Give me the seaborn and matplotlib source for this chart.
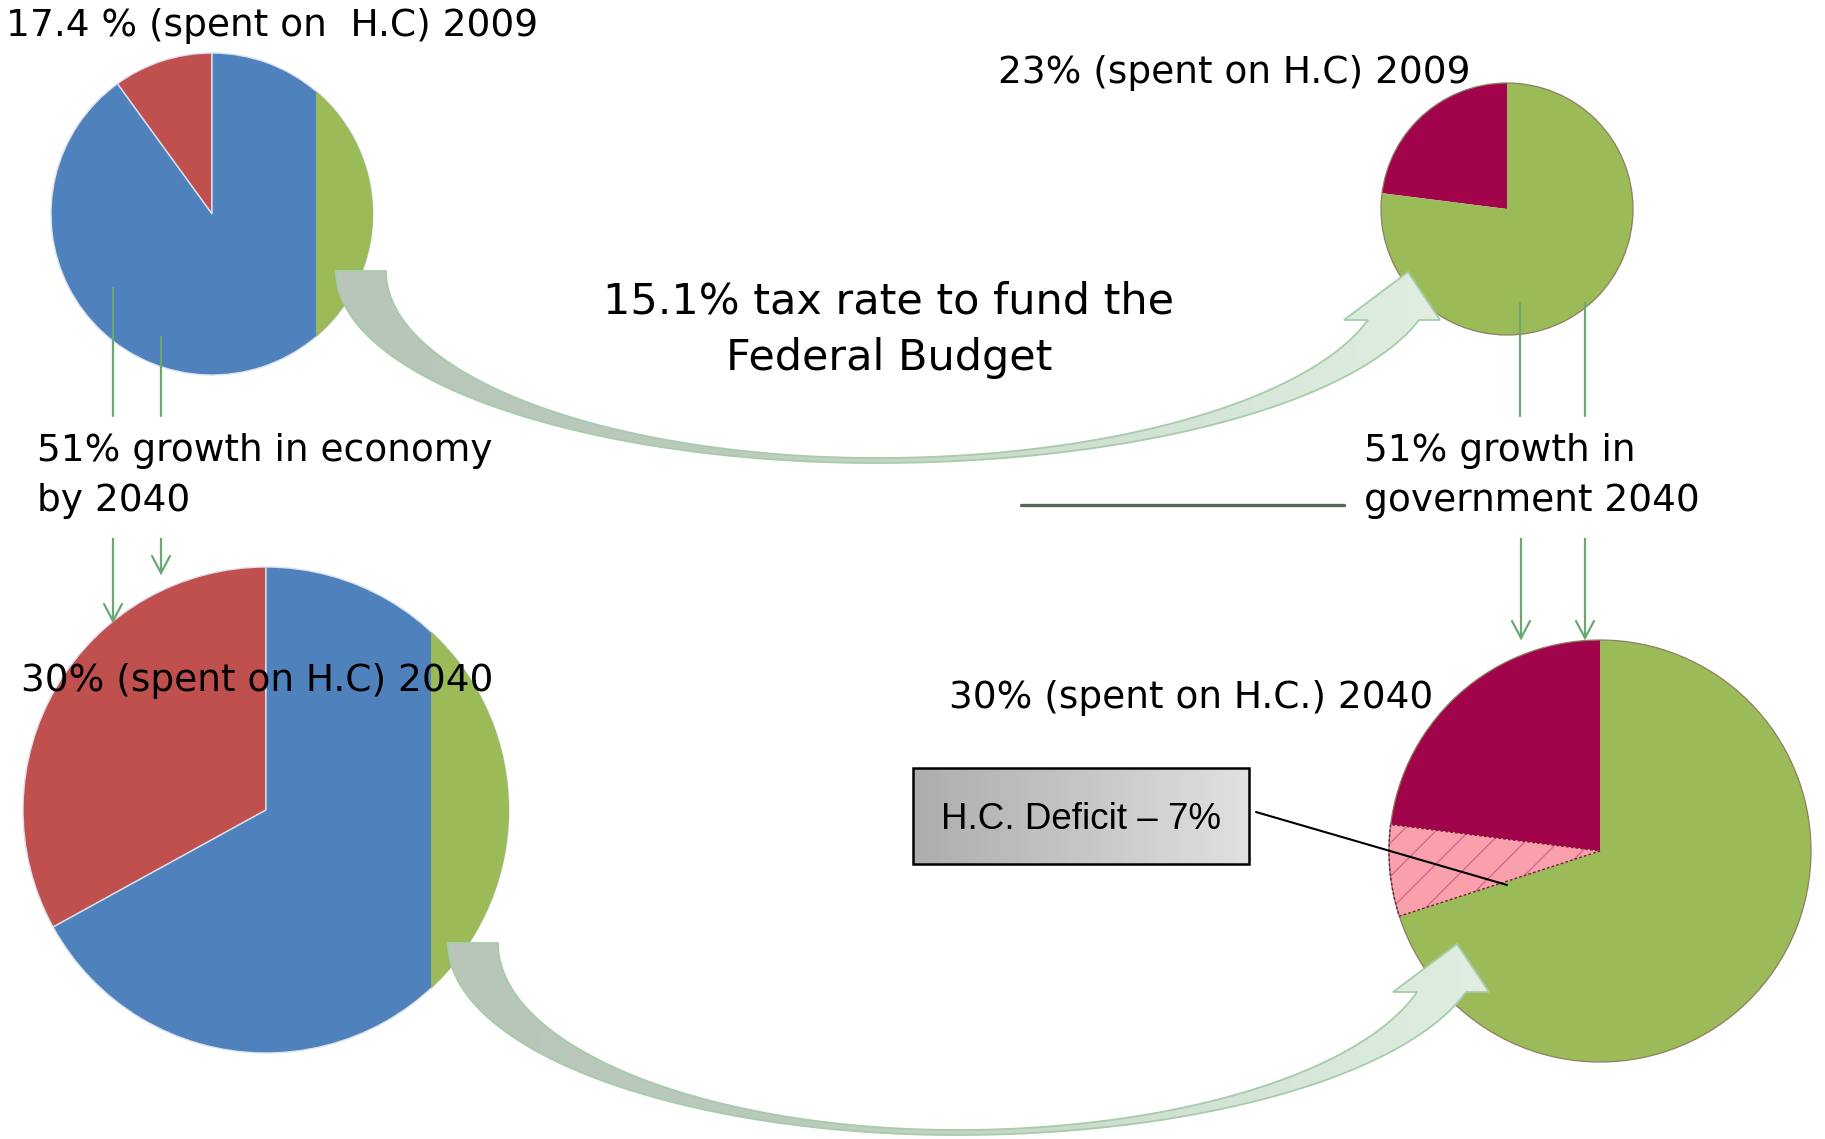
import numpy as np
import matplotlib
matplotlib.use("Agg")
import matplotlib.pyplot as plt
import seaborn as sns
from matplotlib.patches import Polygon, Rectangle, Circle, Wedge
from matplotlib.colors import LinearSegmentedColormap

# ---------------------------------------------------------------- data
# economy pies (share of GDP): health care vs. rest of economy
economy_2009 = [10, 90]
economy_2040 = [33, 67]
# green cap on the economy pies: federal tax take, % of disc area
tax_cap_share = [12.0, 10.3]
# federal budget pies: health care vs. rest of government
budget_2009 = [23, 77]
budget_2040 = [23, 7, 70]          # funded H.C., H.C. deficit, rest

label_tl = "17.4 % (spent on  H.C) 2009"
label_tr = "23% (spent on H.C) 2009"
label_bl = "30% (spent on H.C) 2040"
label_br = "30% (spent on H.C.) 2040"
tax_label = ["15.1% tax rate to fund the", "Federal Budget"]
growth_econ = ["51% growth in economy", "by 2040"]
growth_gov = ["51% growth in", "government 2040"]
deficit_label = "H.C. Deficit \u2013 7%"

# ---------------------------------------------------------------- style
sns.set_theme(style="white")
plt.rcParams["font.family"] = ["DejaVu Sans"]
plt.rcParams["text.color"] = "black"
plt.rcParams["hatch.linewidth"] = 1.0

BLUE, RED, GREEN = "#4F81BD", "#C0504D", "#9BBB59"
MAROON, PINK = "#A1044A", "#F9A0AC"
LINE_GREEN = "#6CA873"

W, H = 1825, 1139
fig = plt.figure(figsize=(W / 100, H / 100), dpi=100)
fig.patch.set_facecolor("white")


def pie_axes(cx, cy, r, pad=1.03):
    rr = r * pad
    ax = fig.add_axes([(cx - rr) / W, 1 - (cy + rr) / H, 2 * rr / W, 2 * rr / H])
    return ax, pad


def finish_pie(ax, pad):
    ax.set_xlim(-pad, pad)
    ax.set_ylim(-pad, pad)
    ax.set_aspect("auto")
    ax.set_axis_off()


def cap_offset(share):
    # distance of the chord from the centre for a segment of given area share
    lo, hi = 0.0, 1.0
    target = share / 100 * np.pi
    for _ in range(60):
        d = (lo + hi) / 2
        area = np.arccos(d) - d * np.sqrt(1 - d * d)
        if area > target:
            lo = d
        else:
            hi = d
    return (lo + hi) / 2


def economy_pie(values, cap, cx, cy, r):
    ax, pad = pie_axes(cx, cy, r)
    ax.pie(values, colors=[RED, BLUE], startangle=90, counterclock=True,
           radius=1, wedgeprops=dict(edgecolor="#DCE2EE", linewidth=1.0))
    d = cap_offset(cap)
    disc = Circle((0, 0), 1, transform=ax.transData)
    seg = Rectangle((d, -1.2), 1.4, 2.4, facecolor=GREEN, edgecolor="none", zorder=3)
    ax.add_patch(seg)
    seg.set_clip_path(disc)
    finish_pie(ax, pad)


def budget_pie(values, colors, cx, cy, r, deficit_index=None):
    ax, pad = pie_axes(cx, cy, r)
    wedges, _ = ax.pie(values, colors=colors, startangle=90, counterclock=True,
                       radius=1, wedgeprops=dict(linewidth=0))
    ax.add_patch(Circle((0, 0), 1, facecolor="none", edgecolor="#8C7F62",
                        linewidth=0.9, zorder=4))
    if deficit_index is not None:
        w = wedges[deficit_index]
        ax.add_patch(Wedge((0, 0), 1, w.theta1, w.theta2, facecolor="none",
                           edgecolor="#CF6E88", hatch="/", linewidth=0, zorder=3))
        ax.add_patch(Wedge((0, 0), 1, w.theta1, w.theta2, facecolor="none",
                           edgecolor="#7A1A38", linewidth=1.0, linestyle=(0, (2, 1.5)),
                           zorder=4))
    finish_pie(ax, pad)


economy_pie(economy_2009, tax_cap_share[0], 212, 214, 161)
economy_pie(economy_2040, tax_cap_share[1], 266, 810, 243)
budget_pie(budget_2009, [MAROON, GREEN], 1507, 209, 126)
budget_pie(budget_2040, [MAROON, PINK, GREEN], 1600, 851, 211, deficit_index=1)

# ---------------------------------------------------------------- overlay
ov = fig.add_axes([0, 0, 1, 1])
ov.set_facecolor("none")


def curved_arrow(cx, cy, ao_l, ai_l, bo, bi, xo_r, xi_r, head_dy, wing_l, wing_r, tip):
    s = np.linspace(0, np.pi / 2, 120)
    outer_left = np.c_[cx - ao_l * np.cos(s), cy + bo * np.sin(s)]
    se_o = np.arcsin(head_dy / bo)
    ao_r = (xo_r - cx) / np.cos(se_o)
    s_r = np.linspace(np.pi / 2, se_o, 120)
    outer_right = np.c_[cx + ao_r * np.cos(s_r), cy + bo * np.sin(s_r)]
    se_i = np.arcsin(head_dy / bi)
    ai_r = (xi_r - cx) / np.cos(se_i)
    s_ri = np.linspace(se_i, np.pi / 2, 120)
    inner_right = np.c_[cx + ai_r * np.cos(s_ri), cy + bi * np.sin(s_ri)]
    s_li = np.linspace(np.pi / 2, 0, 120)
    inner_left = np.c_[cx - ai_l * np.cos(s_li), cy + bi * np.sin(s_li)]
    head = np.array([[xo_r + wing_r, cy + head_dy], tip, [xi_r - wing_l, cy + head_dy]])
    pts = np.vstack([outer_left, outer_right, head, inner_right, inner_left])

    band = Polygon(pts, closed=True, facecolor="none", edgecolor="#A8CBAB",
                   linewidth=1.3, zorder=6)
    ov.add_patch(band)
    cmap = LinearSegmentedColormap.from_list(
        "band", ["#B7C6B9", "#BACABC", "#CFE0D1", "#DFEEE1"])
    x0, x1 = pts[:, 0].min(), pts[:, 0].max()
    y0, y1 = pts[:, 1].min(), pts[:, 1].max()
    grad = np.linspace(0, 1, 256)[None, :]
    im = ov.imshow(grad, cmap=cmap, extent=(x0, x1, y1, y0), aspect="auto",
                   interpolation="bilinear", zorder=5)
    im.set_clip_path(band)


curved_arrow(877, 271, 541, 491, 192, 187, 1419, 1368, 49, 24, 21, (1408, 272))
curved_arrow(957, 943, 509, 459, 192, 187, 1466, 1417, 49, 24, 23, (1457, 944))


def down_arrow(x, y0, y1):
    ov.plot([x, x], [y0, y1], color=LINE_GREEN, lw=1.6, solid_capstyle="butt", zorder=7)
    ov.plot([x - 9, x, x + 9], [y1 - 17, y1, y1 - 17], color=LINE_GREEN, lw=1.6,
            solid_joinstyle="miter", zorder=7)


# growth connectors
for x, top in [(113, 288), (161, 337), (1520, 303), (1585, 303)]:
    ov.plot([x, x], [top, 416], color=LINE_GREEN, lw=1.6, zorder=7)
down_arrow(113, 538, 621)
down_arrow(161, 538, 573)
down_arrow(1521, 538, 638)
down_arrow(1585, 538, 638)

# divider line
ov.plot([1021, 1344], [505, 505], color="#5B6752", lw=2.4, zorder=7)

# deficit call-out
bx0, bx1, by0, by1 = 913, 1249, 768, 864
box = Rectangle((bx0, by0), bx1 - bx0, by1 - by0, facecolor="none",
                edgecolor="black", linewidth=1.8, zorder=9)
ov.add_patch(box)
gcmap = LinearSegmentedColormap.from_list("box", ["#ADADAD", "#C6C6C6", "#E1E1E1"])
gim = ov.imshow(np.linspace(0, 1, 256)[None, :], cmap=gcmap,
                extent=(bx0, bx1, by1, by0), aspect="auto", zorder=8)
gim.set_clip_path(box)
ov.plot([1256, 1507], [812, 885], color="black", lw=1.5, zorder=9)
ov.text(1081, 829, deficit_label, ha="center", va="baseline", fontsize=26.5,
        family=["Liberation Sans", "DejaVu Sans"], color="black", zorder=10)

# text labels
fs = 27
txt = dict(va="baseline", color="black", zorder=10)
ov.text(6, 36, label_tl, fontsize=fs, ha="left", **txt)
ov.text(998, 83, label_tr, fontsize=fs, ha="left", **txt)
ov.text(889, 314, tax_label[0], fontsize=31, ha="center", **txt)
ov.text(889, 370, tax_label[1], fontsize=31, ha="center", **txt)
ov.text(37, 461, growth_econ[0], fontsize=fs, ha="left", **txt)
ov.text(37, 511, growth_econ[1], fontsize=fs, ha="left", **txt)
ov.text(1364, 461, growth_gov[0], fontsize=fs, ha="left", **txt)
ov.text(1364, 511, growth_gov[1], fontsize=fs, ha="left", **txt)
ov.text(21, 691, label_bl, fontsize=fs, ha="left", **txt)
ov.text(949, 708, label_br, fontsize=fs, ha="left", **txt)

ov.set_xlim(0, W)
ov.set_ylim(H, 0)
ov.set_aspect("auto")
ov.set_axis_off()

fig.savefig("out.png", dpi=100, facecolor="white")
